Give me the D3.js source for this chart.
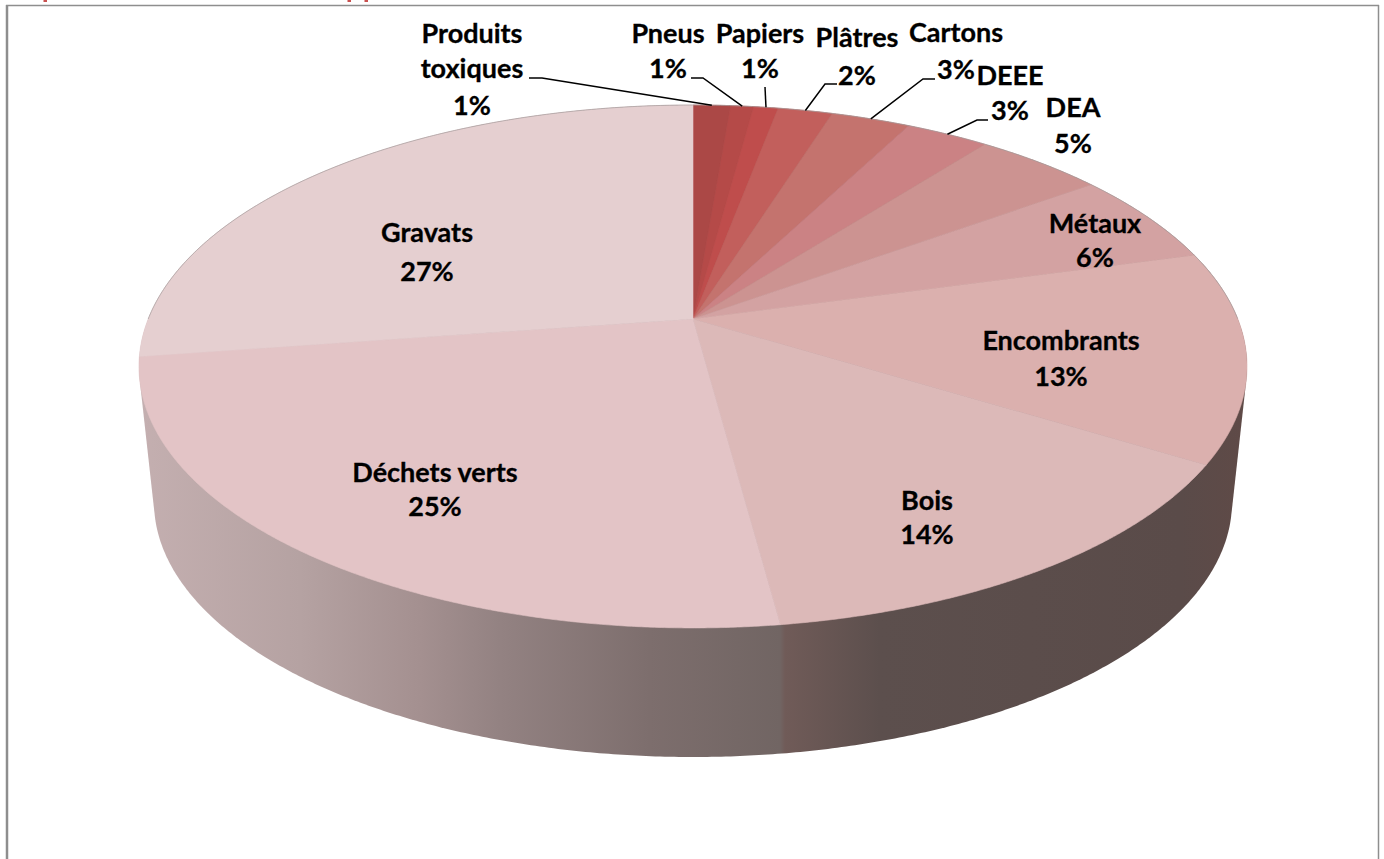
<!DOCTYPE html>
<html lang="fr"><head><meta charset="utf-8">
<script src="https://cdn.jsdelivr.net/npm/d3@7/dist/d3.min.js"></script>
<style>html,body{margin:0;padding:0;background:#fff;overflow:hidden}
text{font-family:Lato,"Open Sans",sans-serif;font-weight:700;fill:#000;stroke:#000;stroke-width:0.3;text-anchor:middle}</style>
</head><body><svg id="c" width="1384" height="859"></svg>
<script>
// --- data
const categories = ["Produits toxiques","Pneus","Papiers","Plâtres","Cartons","DEEE","DEA","Métaux","Encombrants","Bois","Déchets verts","Gravats"];
const values = [1.3,0.8,0.85,1.9,2.75,2.9,4.5,5.75,13.0,14.15,24.8,27.3];
const colors = ["#ab4846","#b54a48","#bf4d4c","#c25f5c","#c4736e","#cb8284","#cc9391","#d3a2a2","#dbb0ae","#dcb9b8","#e3c4c6","#e5cfd0"];
const labelLines = [["Produits","toxiques"],["Pneus"],["Papiers"],["Plâtres"],["Cartons"],["DEEE"],["DEA"],["Métaux"],["Encombrants"],["Bois"],["Déchets verts"],["Gravats"]];

// --- layout
const labelX = [472,668,760,857,956,1010,1073,1095,1061,927,435,427];
const labelY = [[43,78,115],[43,78],[43,78],[47,85],[42,79],[85,120],[117,153],[233,267],[350,386],[510,544],[482,516],[242,281]];
const leaderPts = {0:[[529,78],[542,78]],1:[[691,78],[703,78]],2:[[765,87]],3:[[837,84],[825,84]],4:[[935,79],[923,79]],5:[[988,120],[977,120]]};
const fontSize = 27;
const clippedTitleMarks = [43.5,347.5,364.5];

const apex = {x:693,y:319}, k = -0.1816, A = 544.8, B = 194.9;
const project = t => { const u=Math.sin(t), v=-Math.cos(t), w=1+k*v; return [apex.x+A*u/w,(apex.y+B*v)/w]; };
const svg = d3.select("#c");
const line = d3.line();

// wall gradient
const defs = svg.append("defs");
const gradX = d3.scaleLinear().domain([0,1384]).range([0,1]);
const wallStops = [[140,"#c4afb0"],[300,"#b5a2a2"],[420,"#a49090"],[500,"#938282"],[650,"#7d6e6d"],[780,"#716563"],[785,"#705b58"],[880,"#5c4f4d"],[1180,"#5a4b49"],[1245,"#5f4a47"]];
defs.append("linearGradient").attr("id","wall").attr("gradientUnits","userSpaceOnUse")
  .attr("x1",0).attr("x2",1384).attr("y1",0).attr("y2",0)
  .selectAll("stop").data(wallStops).join("stop")
  .attr("offset",d=>gradX(d[0])).attr("stop-color",d=>d[1]);

// frame
svg.append("g").attr("stroke","#8e8e8e").selectAll("line")
  .data([[7,5,7,859,2.5],[6,5.5,1379,5.5,1.5],[1378.5,5,1378.5,859,1.5]]).join("line")
  .attr("x1",d=>d[0]).attr("y1",d=>d[1]).attr("x2",d=>d[2]).attr("y2",d=>d[3]).attr("stroke-width",d=>d[4]);

// side wall = hull of the top rim and the lower rim
const tau = 2*Math.PI, samples = d3.range(0,tau,tau/720);
const rim = samples.map(project);
const lower = samples.map(t=>[693+539*Math.sin(t),502-255*Math.cos(t)]);
svg.append("path").attr("d",line(d3.polygonHull(rim.concat(lower)))+"Z").attr("fill","url(#wall)");

// top slices
const arcs = d3.pie().sort(null).value(d=>d)(values);
const slicePath = d => {
  const n = Math.max(2,Math.ceil((d.endAngle-d.startAngle)/0.005));
  const pts = d3.range(n+1).map(i=>project(d.startAngle+(d.endAngle-d.startAngle)*i/n));
  return line([[apex.x,apex.y],...pts])+"Z";
};
svg.append("g").selectAll("path").data(arcs).join("path")
  .attr("d",slicePath).attr("fill",(d,i)=>colors[i]).attr("stroke",(d,i)=>colors[i]).attr("stroke-width",0.6);

// soft grey rim on the far edge
svg.append("path").attr("d",line(d3.range(-Math.PI/2,Math.PI/2,0.01).map(project)))
  .attr("fill","none").attr("stroke","#a8a0a0").attr("stroke-width",1).attr("opacity",0.7);

// leaders
svg.append("g").selectAll("path").data(Object.keys(leaderPts)).join("path")
  .attr("d",i=>{const a=arcs[+i];return line([...leaderPts[i],project((a.startAngle+a.endAngle)/2)]);})
  .attr("fill","none").attr("stroke","#000").attr("stroke-width",1.5);

// labels
const pct = d3.format(".0%");
const g = svg.append("g").attr("font-size",fontSize);
categories.forEach((c,i)=>{
  const lines = labelLines[i].concat(pct(Math.round(values[i])/100));
  lines.forEach((t,j)=>g.append("text").attr("x",labelX[i]).attr("y",labelY[i][j]).text(t));
});

// the title is cut off above the picture and unreadable: only small red marks of it remain
svg.append("g").selectAll("rect").data(clippedTitleMarks).join("rect")
  .attr("x",d=>d).attr("y",0).attr("width",3.5).attr("height",2).attr("fill","#c9504f");
</script></body></html>
